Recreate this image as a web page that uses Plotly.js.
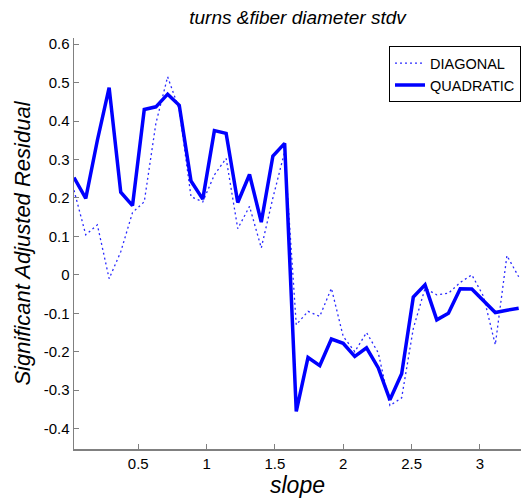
<!DOCTYPE html>
<html>
<head>
<meta charset="utf-8">
<script src="https://cdn.plot.ly/plotly-3.0.1.min.js"></script>
<style>html,body{margin:0;padding:0;background:#fff;}#chart{width:521px;height:502px;}</style>
</head>
<body>
<div id="chart"></div>
<script>
var slope = [0.03,0.116,0.201,0.287,0.372,0.458,0.544,0.629,0.715,0.800,0.886,0.972,1.057,1.143,1.228,1.314,1.400,1.485,1.571,1.656,1.742,1.828,1.913,1.999,2.084,2.170,2.256,2.341,2.427,2.512,2.598,2.684,2.769,2.855,2.940,3.026,3.112,3.197,3.283];
var diagonal = [0.22,0.104,0.13,-0.01,0.06,0.162,0.19,0.394,0.515,0.43,0.203,0.19,0.26,0.303,0.12,0.178,0.07,0.2,0.32,-0.13,-0.095,-0.108,-0.035,-0.16,-0.2,-0.15,-0.203,-0.34,-0.32,-0.14,-0.035,-0.052,-0.048,-0.02,0.0,-0.056,-0.182,0.05,-0.005];
var quadratic = [0.253,0.199,0.35,0.487,0.215,0.18,0.43,0.437,0.47,0.441,0.244,0.197,0.375,0.368,0.188,0.261,0.137,0.309,0.342,-0.355,-0.215,-0.236,-0.167,-0.178,-0.212,-0.19,-0.242,-0.325,-0.257,-0.058,-0.026,-0.117,-0.1,-0.036,-0.037,-0.068,-0.098,-0.092,-0.087];
var xTickVals = [0.5,1,1.5,2,2.5,3];
var xTickText = ["0.5","1","1.5","2","2.5","3"];
var yTickVals = [0.6,0.5,0.4,0.3,0.2,0.1,0,-0.1,-0.2,-0.3,-0.4];
var yTickText = ["0.6","0.5","0.4","0.3","0.2","0.1","0","-0.1","-0.2","-0.3","-0.4"];

var font = "Liberation Sans, Arial, Helvetica, sans-serif";
var data = [
  {x: slope, y: diagonal, type: 'scatter', mode: 'lines', name: 'DIAGONAL',
   line: {color: '#2a2aff', width: 1.3, dash: '2px,3px'}},
  {x: slope, y: quadratic, type: 'scatter', mode: 'lines', name: 'QUADRATIC',
   line: {color: '#0000ff', width: 3.5}}
];
var layout = {
  width: 521, height: 502,
  margin: {l: 74, r: 0, t: 38, b: 53},
  paper_bgcolor: '#fff', plot_bgcolor: '#fff',
  font: {family: font, color: '#000', size: 15},
  title: {text: '<i>turns &amp;fiber diameter stdv</i>', font: {family: font, size: 19, color: '#000'},
          x: 0.5, xref: 'paper', y: 0.965, yref: 'container', yanchor: 'middle'},
  showlegend: true,
  legend: {x: 1, xanchor: 'right', y: 0.98, yanchor: 'top', bgcolor: '#fff',
           bordercolor: '#000', borderwidth: 1, font: {family: font, size: 14.5, color: '#000'},
           tracegroupgap: 0, itemwidth: 30},
  xaxis: {range: [0.03, 3.30], showgrid: false, zeroline: false, showline: true,
          linecolor: '#808080', linewidth: 1.5, mirror: false,
          ticks: 'inside', ticklen: 5, tickcolor: '#808080', tickwidth: 1,
          tickmode: 'array', tickvals: xTickVals, ticktext: xTickText,
          tickfont: {family: font, size: 15, color: '#000'},
          title: {text: '<i>slope</i>', font: {family: font, size: 23, color: '#000'}, standoff: 6}},
  yaxis: {range: [-0.453, 0.616], showgrid: false, zeroline: false, showline: true,
          linecolor: '#808080', linewidth: 1.5, mirror: false,
          ticks: 'inside', ticklen: 5, tickcolor: '#808080', tickwidth: 1,
          tickmode: 'array', tickvals: yTickVals, ticktext: yTickText,
          tickfont: {family: font, size: 15, color: '#000'},
          title: {text: '<i>Significant Adjusted Residual</i>', font: {family: font, size: 22, color: '#000'}, standoff: 7}}
};
Plotly.newPlot('chart', data, layout, {displayModeBar: false, staticPlot: true});
</script>
</body>
</html>
